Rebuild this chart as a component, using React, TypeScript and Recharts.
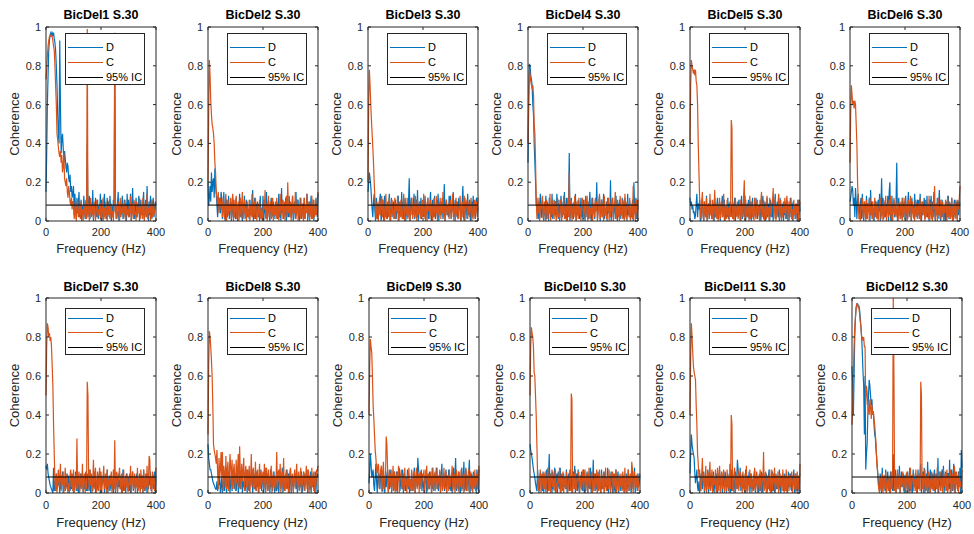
import React from 'react';
import { LineChart, Line, XAxis, YAxis, ReferenceLine, ReferenceArea, Legend, Label } from 'recharts';

const FONT = '"Liberation Sans", Arial, Helvetica, sans-serif';
const D_COLOR = '#0072BD';
const C_COLOR = '#D95319';
const IC_COLOR = '#000000';
const AXIS_COLOR = '#262626';

// coherence bins every 2.5 Hz, 0..400 Hz
const FREQ_STEP = 2.5;
const X_TICKS = [0, 200, 400];
const Y_TICKS = [0, 0.2, 0.4, 0.6, 0.8, 1];
const IC_LEVEL = 0.082;

const TITLES = [
  'BicDel1 S.30', 'BicDel2 S.30', 'BicDel3 S.30', 'BicDel4 S.30', 'BicDel5 S.30', 'BicDel6 S.30',
  'BicDel7 S.30', 'BicDel8 S.30', 'BicDel9 S.30', 'BicDel10 S.30', 'BicDel11 S.30', 'BicDel12 S.30',
];

const LEGEND_ITEMS = [
  { label: 'D', color: D_COLOR },
  { label: 'C', color: C_COLOR },
  { label: '95% IC', color: IC_COLOR },
];

// coherence in hundredths, one row per 50 Hz
const D1 = [
  15, 35, 60, 75, 88, 93, 96, 97, 95, 97, 96, 97, 94, 92, 88, 80, 70, 55, 45, 40,
  93, 60, 35, 42, 45, 38, 30, 36, 32, 28, 25, 30, 28, 22, 20, 24, 15, 18, 12, 14,
  18, 3, 14, 6, 1, 12, 4, 9, 15, 2, 5, 11, 0, 8, 3, 13, 6, 1, 10, 4,
  40, 2, 7, 13, 1, 10, 5, 3, 16, 0, 9, 4, 12, 2, 6, 11, 1, 8, 3, 14,
  2, 11, 5, 0, 9, 14, 3, 7, 1, 12, 4, 10, 2, 13, 6, 0, 8, 3, 11, 5,
  97, 12, 1, 6, 9, 15, 0, 4, 10, 3, 7, 13, 1, 5, 11, 2, 9, 0, 14, 4,
  11, 2, 8, 14, 0, 6, 17, 3, 10, 1, 5, 12, 2, 9, 4, 13, 0, 7, 11, 3,
  6, 9, 15, 1, 4, 11, 2, 18, 5, 0, 10, 3, 13, 7, 1, 9, 12, 2, 6, 10,
  8,
];
const C1 = [
  73, 78, 85, 90, 93, 95, 95, 96, 96, 95, 93, 90, 88, 80, 70, 60, 45, 42, 38, 35,
  33, 36, 30, 34, 25, 28, 35, 22, 20, 18, 22, 15, 12, 18, 15, 10, 8, 12, 6, 10,
  10, 1, 5, 9, 0, 7, 11, 2, 4, 8, 1, 10, 3, 6, 0, 9, 5, 2, 11, 1,
  99, 3, 9, 0, 6, 12, 2, 4, 8, 1, 10, 5, 0, 7, 11, 2, 6, 3, 9, 1,
  9, 0, 5, 12, 2, 7, 1, 10, 4, 0, 8, 3, 11, 1, 6, 9, 2, 5, 0, 10,
  75, 4, 8, 1, 3, 10, 6, 0, 12, 2, 7, 4, 9, 1, 5, 11, 0, 8, 3, 6,
  2, 8, 4, 13, 0, 6, 9, 1, 11, 3, 5, 0, 10, 2, 7, 4, 12, 1, 6, 8,
  1, 12, 3, 0, 9, 5, 2, 14, 1, 7, 4, 10, 0, 6, 11, 2, 8, 3, 5, 9,
  9,
];
const D2 = [
  20, 8, 12, 18, 10, 25, 15, 20, 22, 12, 27, 18, 14, 8, 2, 10, 6, 12, 4, 15,
  12, 1, 6, 15, 3, 0, 8, 11, 2, 5, 13, 1, 7, 10, 0, 4, 12, 2, 9, 3,
  1, 12, 4, 0, 8, 6, 14, 2, 10, 3, 0, 9, 5, 13, 1, 7, 11, 2, 6, 4,
  1, 11, 3, 8, 2, 16, 0, 5, 12, 1, 9, 4, 10, 2, 7, 0, 13, 3, 6, 1,
  13, 0, 5, 9, 2, 15, 1, 6, 11, 3, 0, 8, 12, 2, 4, 10, 1, 7, 3, 9,
  10, 1, 6, 14, 2, 9, 0, 17, 4, 11, 1, 7, 3, 12, 0, 5, 9, 2, 13, 6,
  2, 9, 4, 13, 0, 7, 10, 1, 15, 3, 6, 11, 2, 0, 8, 12, 1, 5, 9, 3,
  12, 1, 6, 9, 14, 0, 4, 10, 2, 7, 13, 1, 5, 11, 0, 8, 3, 12, 6, 2,
  14,
];
const C2 = [
  20, 55, 83, 75, 62, 55, 50, 48, 45, 40, 30, 25, 15, 12, 8, 15, 4, 9, 12, 6,
  10, 2, 12, 7, 1, 9, 14, 0, 6, 11, 3, 8, 5, 12, 1, 9, 14, 0, 11, 2,
  8, 13, 1, 6, 10, 0, 4, 12, 2, 9, 15, 1, 5, 11, 3, 7, 0, 10, 4, 2,
  11, 0, 8, 3, 14, 2, 6, 10, 1, 12, 7, 0, 5, 9, 2, 11, 4, 1, 7, 0,
  3, 11, 6, 16, 1, 9, 0, 5, 13, 2, 7, 10, 1, 4, 12, 0, 8, 3, 10, 1,
  12, 2, 9, 0, 6, 14, 3, 8, 11, 1, 5, 10, 0, 7, 13, 2, 20, 4, 9, 2,
  10, 0, 7, 13, 2, 9, 4, 15, 1, 6, 11, 0, 8, 3, 12, 1, 5, 9, 2, 0,
  12, 1, 8, 4, 14, 2, 6, 10, 0, 9, 3, 13, 1, 7, 11, 2, 5, 8, 3, 11,
  15,
];
const D3 = [
  15, 20, 25, 22, 18, 12, 6, 2, 10, 14, 5, 0, 12, 8, 1, 9, 3, 11, 14, 0,
  3, 11, 6, 0, 13, 2, 9, 4, 1, 10, 7, 14, 0, 5, 12, 2, 8, 10, 1, 6,
  11, 1, 8, 4, 13, 0, 6, 9, 2, 15, 3, 10, 1, 7, 12, 0, 5, 9, 2, 11,
  22, 0, 8, 12, 3, 6, 9, 14, 1, 5, 11, 2, 16, 0, 7, 10, 3, 12, 1, 6,
  10, 2, 7, 13, 0, 8, 4, 12, 1, 6, 9, 15, 0, 4, 11, 2, 8, 13, 1, 5,
  11, 2, 14, 0, 7, 10, 3, 5, 12, 1, 9, 19, 0, 6, 11, 3, 8, 2, 13, 4,
  13, 1, 8, 5, 15, 0, 7, 11, 2, 10, 4, 1, 12, 6, 9, 0, 3, 10, 18, 2,
  0, 12, 5, 9, 1, 14, 3, 7, 11, 0, 6, 10, 2, 13, 4, 8, 1, 10, 12, 3,
  7,
];
const C3 = [
  20, 60, 78, 70, 60, 52, 45, 38, 30, 20, 12, 4, 1, 10, 6, 0, 9, 12, 3, 8,
  13, 2, 11, 5, 0, 8, 14, 1, 7, 10, 2, 12, 4, 0, 9, 11, 3, 6, 1, 12,
  1, 9, 5, 13, 0, 7, 10, 2, 11, 4, 1, 8, 14, 0, 6, 9, 3, 12, 1, 5,
  8, 0, 6, 10, 12, 1, 4, 9, 2, 13, 7, 0, 11, 3, 5, 10, 1, 8, 2, 11,
  2, 14, 4, 1, 10, 7, 0, 12, 5, 8, 1, 11, 3, 9, 0, 6, 12, 2, 7, 4,
  13, 0, 9, 3, 6, 12, 1, 10, 4, 15, 2, 8, 0, 7, 11, 3, 5, 9, 1, 8,
  11, 1, 7, 14, 2, 5, 9, 0, 12, 3, 10, 6, 1, 8, 13, 0, 4, 10, 2, 7,
  13, 0, 6, 8, 11, 1, 5, 10, 2, 7, 12, 0, 4, 9, 1, 11, 3, 6, 10, 2,
  12,
];
const D4 = [
  30, 60, 81, 80, 75, 73, 70, 60, 55, 40, 30, 20, 8, 12, 4, 1, 10, 6, 14, 2,
  2, 11, 5, 0, 9, 3, 13, 1, 10, 7, 0, 12, 4, 8, 2, 14, 1, 6, 11, 3,
  9, 2, 14, 5, 1, 11, 0, 7, 13, 3, 2, 10, 6, 15, 1, 4, 12, 0, 8, 10,
  35, 0, 6, 12, 2, 9, 1, 10, 4, 14, 0, 7, 3, 11, 9, 1, 5, 12, 2, 8,
  1, 11, 4, 0, 13, 6, 2, 10, 1, 8, 15, 3, 0, 9, 12, 4, 7, 1, 11, 5,
  20, 1, 7, 9, 13, 0, 5, 11, 2, 8, 14, 1, 6, 3, 10, 0, 12, 4, 9, 2,
  21, 0, 8, 12, 2, 6, 10, 1, 13, 4, 0, 9, 5, 11, 1, 7, 3, 12, 8, 2,
  1, 12, 5, 9, 0, 14, 3, 7, 10, 1, 6, 2, 11, 0, 20, 8, 3, 12, 1, 11,
  6,
];
const C4 = [
  40, 65, 78, 75, 72, 70, 68, 70, 65, 50, 45, 30, 10, 1, 8, 4, 12, 0, 9, 6,
  9, 13, 1, 5, 10, 2, 0, 11, 7, 1, 9, 4, 14, 0, 6, 11, 3, 8, 1, 10,
  10, 0, 6, 12, 2, 4, 1, 9, 11, 0, 8, 3, 13, 1, 5, 9, 0, 7, 12, 2,
  25, 1, 8, 11, 0, 5, 9, 2, 13, 4, 0, 10, 6, 1, 12, 3, 7, 0, 9, 12,
  8, 1, 5, 11, 2, 9, 13, 0, 4, 10, 1, 7, 3, 12, 0, 6, 9, 2, 12, 5,
  10, 0, 4, 8, 14, 1, 6, 11, 2, 9, 0, 13, 3, 7, 1, 10, 5, 12, 0, 8,
  2, 10, 5, 12, 0, 7, 9, 15, 1, 4, 11, 2, 8, 0, 13, 3, 6, 1, 11, 9,
  0, 14, 3, 1, 10, 6, 8, 2, 12, 0, 5, 9, 1, 18, 4, 9, 0, 7, 11, 1,
  11,
];
const D5 = [
  12, 8, 10, 6, 8, 4, 5, 1, 3, 9, 14, 2, 9, 6, 11, 0, 1, 8, 12, 3,
  0, 10, 4, 2, 13, 0, 7, 9, 1, 8, 11, 3, 1, 6, 9, 0, 12, 2, 5, 8,
  12, 1, 6, 10, 0, 4, 8, 13, 2, 9, 11, 0, 5, 7, 2, 12, 1, 9, 4, 10,
  7, 2, 10, 1, 5, 12, 0, 8, 3, 9, 2, 11, 6, 0, 8, 13, 1, 5, 10, 2,
  13, 0, 6, 9, 2, 11, 1, 4, 10, 0, 7, 12, 1, 5, 9, 2, 12, 6, 1, 8,
  8, 2, 11, 0, 5, 9, 13, 1, 6, 10, 0, 4, 12, 2, 9, 7, 0, 11, 3, 2,
  11, 0, 5, 9, 14, 1, 6, 10, 2, 8, 0, 12, 4, 1, 9, 7, 0, 10, 3, 9,
  1, 11, 4, 8, 0, 6, 12, 2, 9, 0, 10, 3, 7, 1, 9, 5, 0, 11, 3, 11,
  5,
];
const C5 = [
  40, 70, 83, 80, 78, 76, 78, 75, 78, 72, 70, 60, 40, 25, 12, 6, 1, 9, 15, 3,
  0, 10, 4, 2, 12, 0, 7, 9, 1, 14, 3, 8, 1, 11, 0, 6, 16, 2, 9, 1,
  9, 0, 5, 12, 1, 8, 10, 2, 4, 14, 0, 6, 8, 1, 11, 3, 7, 0, 10, 2,
  52, 48, 1, 9, 0, 6, 12, 2, 4, 10, 1, 8, 3, 11, 0, 6, 9, 2, 13, 21,
  0, 11, 3, 2, 9, 6, 0, 13, 1, 5, 10, 2, 7, 0, 12, 4, 1, 8, 11, 3,
  8, 0, 5, 10, 15, 2, 6, 11, 0, 4, 9, 1, 13, 3, 7, 0, 12, 5, 2, 9,
  10, 17, 1, 6, 12, 0, 8, 3, 9, 14, 1, 5, 11, 0, 7, 2, 10, 4, 12, 1,
  9, 13, 0, 5, 10, 2, 7, 12, 1, 6, 0, 11, 3, 8, 1, 9, 4, 11, 0, 7,
  10,
];
const D6 = [
  10, 12, 15, 18, 16, 8, 12, 2, 17, 10, 1, 11, 14, 6, 3, 9, 12, 1, 14, 4,
  0, 10, 8, 3, 13, 1, 9, 6, 12, 0, 16, 4, 10, 2, 7, 0, 11, 3, 10, 5,
  2, 11, 5, 14, 0, 8, 22, 3, 12, 1, 6, 10, 2, 9, 4, 13, 0, 15, 20, 1,
  0, 13, 4, 8, 11, 2, 6, 10, 30, 0, 7, 12, 3, 9, 1, 5, 12, 2, 9, 10,
  1, 13, 5, 0, 9, 15, 2, 7, 10, 0, 12, 4, 8, 1, 14, 6, 2, 9, 11, 3,
  11, 1, 14, 6, 0, 10, 3, 8, 12, 1, 9, 4, 13, 2, 6, 0, 11, 5, 13, 1,
  10, 2, 15, 6, 0, 9, 3, 12, 1, 9, 16, 4, 0, 7, 11, 2, 5, 8, 0, 10,
  0, 10, 4, 13, 1, 7, 9, 2, 12, 5, 0, 8, 11, 2, 6, 10, 1, 11, 3, 10,
  8,
];
const C6 = [
  30, 55, 70, 65, 60, 62, 58, 62, 60, 50, 40, 20, 10, 1, 4, 0, 9, 6, 12, 2,
  2, 10, 5, 0, 11, 1, 7, 9, 0, 12, 3, 8, 1, 10, 0, 6, 12, 2, 9, 1,
  10, 0, 5, 9, 12, 1, 4, 8, 0, 11, 2, 7, 13, 0, 6, 9, 2, 11, 3, 13,
  1, 9, 0, 5, 12, 3, 8, 2, 6, 11, 0, 9, 4, 1, 10, 7, 0, 12, 2, 6,
  12, 0, 6, 9, 1, 11, 4, 8, 13, 0, 5, 10, 2, 7, 0, 11, 3, 9, 1, 5,
  9, 1, 12, 0, 7, 10, 3, 5, 8, 0, 11, 2, 6, 9, 1, 13, 0, 4, 10, 2,
  0, 10, 6, 18, 1, 5, 9, 0, 12, 3, 7, 1, 11, 2, 6, 10, 0, 8, 4, 11,
  8, 0, 13, 2, 6, 10, 1, 5, 12, 0, 7, 3, 9, 1, 11, 4, 0, 9, 6, 12,
  18,
];
const D7 = [
  14, 12, 15, 10, 8, 6, 4, 3, 2, 1, 0, 13, 1, 6, 5, 10, 2, 8, 4, 9,
  0, 9, 2, 6, 11, 0, 4, 8, 1, 10, 3, 7, 0, 9, 5, 1, 10, 2, 6, 9,
  0, 8, 4, 11, 1, 6, 10, 0, 7, 3, 10, 2, 5, 9, 0, 8, 2, 6, 11, 1,
  10, 1, 7, 3, 12, 0, 5, 9, 1, 8, 3, 11, 0, 6, 2, 10, 1, 8, 11, 0,
  1, 9, 4, 7, 10, 0, 5, 8, 2, 12, 0, 6, 9, 1, 4, 10, 2, 7, 0, 9,
  11, 0, 6, 8, 1, 10, 3, 7, 2, 9, 0, 5, 12, 1, 4, 8, 0, 10, 3, 6,
  8, 1, 10, 0, 5, 7, 11, 1, 4, 9, 2, 6, 10, 0, 7, 3, 10, 1, 5, 9,
  7, 0, 12, 3, 1, 9, 5, 0, 10, 2, 8, 4, 11, 1, 6, 9, 2, 8, 11, 0,
  9,
];
const C7 = [
  50, 75, 87, 85, 80, 82, 78, 80, 75, 65, 55, 35, 20, 5, 1, 10, 0, 8, 12, 3,
  7, 15, 1, 9, 4, 11, 0, 6, 13, 2, 8, 10, 1, 5, 0, 9, 12, 3, 10, 1,
  12, 0, 6, 9, 2, 28, 1, 7, 11, 0, 5, 10, 3, 15, 1, 8, 10, 0, 6, 2,
  57, 50, 8, 1, 12, 4, 10, 0, 6, 17, 2, 9, 13, 0, 5, 11, 1, 7, 13, 1,
  11, 0, 5, 8, 14, 2, 6, 10, 0, 12, 3, 7, 1, 9, 4, 11, 0, 6, 12, 2,
  27, 1, 8, 11, 0, 6, 9, 13, 2, 5, 10, 0, 7, 12, 1, 4, 9, 3, 10, 1,
  1, 9, 4, 14, 0, 7, 11, 2, 6, 10, 0, 8, 3, 13, 1, 5, 9, 0, 12, 2,
  9, 0, 12, 5, 1, 10, 3, 14, 0, 6, 19, 17, 2, 8, 0, 11, 4, 9, 1, 6,
  13,
];
const D8 = [
  25, 18, 15, 12, 12, 10, 8, 6, 5, 4, 3, 2, 2, 6, 1, 4, 5, 8, 0, 3,
  8, 0, 5, 9, 1, 7, 11, 0, 4, 8, 2, 10, 0, 6, 9, 1, 7, 11, 2, 5,
  10, 1, 7, 12, 0, 4, 9, 2, 8, 11, 0, 6, 3, 10, 1, 5, 9, 0, 12, 2,
  1, 9, 4, 7, 12, 0, 6, 10, 2, 8, 1, 11, 3, 6, 0, 9, 4, 12, 1, 7,
  9, 0, 5, 13, 2, 7, 10, 1, 4, 8, 0, 12, 3, 9, 1, 6, 11, 0, 7, 3,
  1, 11, 4, 0, 8, 10, 2, 6, 13, 0, 5, 9, 1, 7, 12, 2, 4, 10, 0, 8,
  12, 0, 6, 9, 1, 4, 10, 8, 2, 11, 0, 5, 9, 1, 7, 3, 11, 0, 6, 9,
  1, 10, 4, 8, 12, 0, 6, 9, 2, 11, 0, 7, 3, 10, 1, 5, 11, 0, 8, 10,
  8,
];
const C8 = [
  30, 65, 83, 80, 75, 68, 60, 45, 25, 22, 20, 18, 15, 22, 10, 2, 18, 8, 12, 21,
  8, 21, 1, 14, 10, 3, 19, 2, 12, 16, 1, 9, 20, 13, 4, 17, 2, 11, 15, 6,
  1, 17, 5, 12, 20, 3, 24, 10, 2, 15, 6, 11, 18, 1, 9, 14, 3, 12, 1, 9,
  14, 0, 8, 20, 3, 10, 13, 2, 5, 16, 1, 9, 12, 0, 8, 15, 2, 11, 4, 8,
  11, 2, 15, 6, 0, 13, 9, 1, 12, 4, 2, 10, 14, 0, 7, 11, 3, 9, 1, 7,
  21, 2, 9, 12, 5, 15, 0, 8, 11, 3, 18, 1, 6, 10, 2, 12, 7, 0, 9, 10,
  13, 1, 8, 10, 0, 6, 12, 3, 9, 15, 2, 5, 11, 1, 7, 13, 0, 9, 4, 11,
  10, 1, 7, 14, 2, 8, 12, 0, 5, 9, 1, 13, 3, 7, 11, 0, 9, 4, 12, 11,
  14,
];
const D9 = [
  5, 12, 20, 15, 8, 10, 12, 4, 1, 8, 15, 6, 0, 9, 10, 3, 2, 11, 12, 1,
  1, 9, 5, 0, 11, 3, 8, 12, 1, 6, 2, 10, 12, 0, 7, 9, 1, 11, 4, 1,
  11, 0, 7, 8, 13, 1, 5, 10, 2, 12, 0, 6, 9, 1, 8, 4, 12, 2, 9, 0,
  7, 1, 11, 5, 1, 9, 13, 0, 6, 10, 3, 18, 12, 10, 2, 6, 12, 1, 8, 4,
  1, 9, 5, 12, 0, 7, 10, 2, 11, 4, 8, 0, 13, 2, 6, 10, 1, 8, 13, 2,
  9, 1, 6, 11, 0, 8, 15, 2, 7, 10, 1, 4, 12, 0, 9, 5, 12, 2, 8, 1,
  10, 0, 6, 13, 2, 9, 18, 1, 5, 9, 1, 11, 3, 0, 8, 13, 2, 7, 16, 1,
  2, 12, 5, 9, 1, 10, 17, 0, 6, 10, 1, 8, 11, 2, 5, 9, 0, 12, 8, 1,
  12,
];
const C9 = [
  40, 65, 79, 75, 72, 60, 45, 38, 30, 22, 18, 12, 10, 15, 14, 2, 8, 12, 14, 1,
  11, 16, 2, 9, 7, 29, 25, 13, 0, 8, 12, 3, 10, 1, 6, 14, 2, 11, 0, 9,
  1, 11, 6, 14, 0, 8, 9, 12, 2, 5, 10, 1, 13, 4, 7, 0, 10, 3, 13, 2,
  7, 1, 12, 4, 1, 9, 11, 0, 6, 13, 2, 5, 10, 0, 8, 11, 2, 6, 10, 8,
  12, 0, 6, 9, 14, 1, 4, 10, 2, 7, 11, 0, 5, 13, 1, 8, 11, 2, 6, 13,
  2, 9, 5, 12, 0, 7, 10, 1, 4, 13, 2, 8, 11, 0, 6, 9, 1, 12, 3, 8,
  9, 14, 1, 6, 10, 0, 5, 12, 2, 7, 11, 0, 8, 3, 12, 1, 6, 10, 0, 9,
  10, 13, 1, 6, 9, 12, 0, 5, 11, 2, 8, 0, 10, 3, 12, 1, 7, 10, 2, 9,
  14,
];
const D10 = [
  25, 22, 20, 18, 15, 12, 10, 8, 5, 3, 1, 12, 6, 0, 4, 9, 10, 2, 1, 11,
  0, 9, 4, 2, 12, 0, 6, 10, 20, 1, 10, 5, 0, 11, 2, 8, 13, 0, 7, 10,
  0, 11, 4, 2, 13, 0, 6, 9, 1, 10, 3, 8, 2, 12, 0, 7, 10, 1, 5, 12,
  8, 0, 5, 11, 2, 14, 0, 6, 10, 1, 12, 3, 0, 9, 4, 11, 1, 7, 12, 0,
  9, 1, 6, 11, 0, 10, 3, 2, 13, 0, 8, 5, 17, 1, 6, 10, 2, 9, 0, 11,
  1, 9, 4, 0, 12, 2, 7, 10, 0, 11, 3, 8, 1, 13, 0, 6, 9, 2, 11, 4,
  0, 10, 5, 2, 0, 12, 1, 8, 11, 0, 6, 9, 1, 4, 10, 2, 9, 0, 7, 2,
  10, 0, 6, 12, 1, 8, 9, 0, 4, 11, 2, 7, 13, 0, 5, 9, 1, 10, 3, 6,
  9,
];
const C10 = [
  50, 75, 85, 82, 80, 75, 62, 60, 50, 40, 25, 10, 1, 4, 8, 12, 0, 6, 10, 2,
  10, 2, 11, 0, 6, 9, 13, 1, 4, 10, 0, 8, 12, 3, 7, 1, 9, 12, 0, 5,
  2, 9, 5, 13, 0, 7, 10, 1, 11, 0, 6, 8, 2, 11, 4, 0, 5, 9, 12, 1,
  51, 48, 0, 6, 10, 2, 12, 1, 5, 8, 6, 11, 0, 4, 9, 2, 7, 12, 1, 9,
  12, 1, 6, 10, 0, 8, 13, 2, 5, 9, 11, 0, 7, 3, 10, 1, 6, 12, 0, 10,
  1, 12, 4, 0, 10, 6, 2, 11, 0, 7, 13, 1, 5, 9, 2, 12, 4, 0, 10, 9,
  11, 0, 6, 10, 2, 12, 0, 5, 9, 1, 5, 10, 3, 8, 1, 11, 6, 0, 13, 2,
  0, 9, 4, 12, 1, 7, 10, 2, 16, 12, 0, 6, 11, 2, 9, 3, 10, 1, 5, 9,
  10,
];
const D11 = [
  10, 20, 30, 25, 22, 20, 18, 10, 5, 8, 12, 3, 1, 6, 0, 4, 10, 8, 2, 9,
  11, 0, 5, 9, 1, 7, 12, 0, 4, 10, 2, 6, 8, 1, 11, 0, 6, 9, 2, 10,
  0, 9, 4, 12, 1, 7, 10, 0, 5, 9, 2, 11, 8, 0, 6, 10, 1, 5, 8, 0,
  12, 1, 7, 9, 0, 5, 11, 2, 8, 17, 12, 8, 4, 13, 1, 6, 10, 2, 9, 3,
  0, 12, 5, 1, 9, 6, 11, 0, 4, 10, 2, 7, 1, 9, 12, 0, 6, 10, 3, 8,
  0, 10, 5, 1, 11, 3, 0, 8, 9, 2, 6, 10, 0, 4, 8, 12, 1, 7, 5, 0,
  11, 1, 6, 0, 4, 10, 2, 8, 6, 1, 12, 3, 0, 9, 5, 10, 1, 7, 10, 2,
  1, 8, 0, 11, 3, 8, 10, 2, 1, 9, 6, 12, 0, 4, 10, 1, 8, 0, 5, 8,
  10,
];
const C11 = [
  40, 70, 87, 80, 72, 65, 62, 60, 58, 45, 35, 20, 15, 8, 12, 2, 1, 9, 18, 5,
  10, 1, 6, 14, 0, 7, 11, 2, 9, 16, 1, 8, 12, 0, 9, 4, 5, 12, 0, 2,
  13, 1, 8, 14, 0, 6, 11, 2, 9, 12, 0, 5, 8, 1, 12, 3, 9, 0, 15, 2,
  40, 35, 1, 7, 10, 13, 0, 5, 9, 2, 12, 1, 6, 11, 3, 8, 0, 11, 4, 1,
  10, 2, 14, 0, 6, 8, 1, 12, 3, 10, 0, 5, 9, 2, 13, 1, 7, 11, 0, 6,
  9, 1, 12, 4, 0, 10, 6, 21, 1, 8, 11, 0, 4, 9, 2, 8, 12, 0, 6, 12,
  1, 10, 5, 13, 0, 7, 9, 2, 11, 0, 6, 10, 3, 8, 1, 12, 4, 0, 9, 1,
  12, 0, 6, 9, 1, 10, 3, 8, 11, 0, 5, 9, 2, 10, 0, 6, 11, 2, 9, 1,
  15,
];
const D12 = [
  65, 55, 40, 60, 80, 90, 95, 97, 97, 96, 96, 94, 90, 85, 80, 72, 62, 55, 30, 60,
  12, 20, 25, 40, 50, 58, 55, 50, 45, 48, 40, 42, 35, 30, 28, 22, 18, 12, 8, 4,
  1, 10, 4, 0, 13, 2, 7, 9, 1, 12, 0, 6, 11, 2, 8, 0, 11, 3, 9, 1,
  20, 1, 8, 12, 0, 5, 10, 2, 8, 14, 0, 6, 11, 3, 7, 10, 0, 9, 4, 10,
  2, 11, 5, 0, 13, 1, 8, 9, 0, 12, 3, 6, 10, 1, 9, 0, 12, 4, 7, 10,
  15, 0, 7, 11, 2, 13, 0, 6, 10, 1, 16, 4, 0, 9, 12, 2, 7, 10, 1, 9,
  12, 0, 6, 10, 2, 18, 0, 5, 11, 1, 9, 12, 3, 14, 0, 7, 11, 1, 6, 10,
  10, 2, 17, 0, 6, 12, 1, 8, 15, 3, 0, 11, 5, 9, 1, 11, 4, 13, 0, 22,
  13,
];
const C12 = [
  35, 45, 60, 75, 85, 90, 95, 97, 97, 95, 95, 92, 88, 85, 80, 80, 78, 80, 75, 75,
  45, 55, 52, 45, 42, 40, 48, 44, 38, 45, 40, 42, 38, 35, 30, 25, 15, 12, 5, 2,
  0, 8, 3, 1, 10, 0, 5, 9, 2, 11, 0, 4, 7, 1, 9, 3, 0, 11, 2, 7,
  100, 60, 1, 9, 0, 5, 12, 2, 7, 10, 0, 8, 3, 6, 11, 1, 5, 8, 0, 9,
  11, 0, 6, 9, 2, 13, 0, 5, 8, 10, 1, 7, 3, 12, 0, 6, 9, 2, 10, 1,
  57, 50, 2, 10, 0, 6, 12, 1, 4, 9, 0, 11, 3, 7, 0, 8, 11, 2, 6, 8,
  1, 10, 4, 2, 13, 0, 6, 9, 11, 1, 5, 8, 0, 12, 3, 7, 10, 1, 12, 0,
  2, 9, 5, 12, 0, 7, 10, 1, 6, 14, 0, 5, 11, 2, 8, 0, 11, 3, 6, 2,
  12,
];

const SERIES_D = [D1, D2, D3, D4, D5, D6, D7, D8, D9, D10, D11, D12];
const SERIES_C = [C1, C2, C3, C4, C5, C6, C7, C8, C9, C10, C11, C12];

// layout
const AXIS_W = 46;
const PLOT_W = 110;
const RIGHT_PAD = 14;
const MT = 24;
const X_AXIS_H = 40;
const LINE_W = 1.2;
const PLOT_LEFTS = [
  [46, 208, 368, 528, 690, 850],
  [46, 208, 369, 530, 690, 852],
];
const ROWS = [
  { plotTop: 27, plotH: 194, legendTop: 6, legendH: 52, legendFirst: 13, legendGap: 15, titleDy: 12, tickDy: 11, labelDy: 27 },
  { plotTop: 298, plotH: 195, legendTop: 10, legendH: 47, legendFirst: 9, legendGap: 14.6, titleDy: 11, tickDy: 12, labelDy: 29 },
];

type Row = (typeof ROWS)[number];

function renderLegend(row: Row) {
  return () => (
    <div
      style={{
        position: 'relative',
        width: 80,
        height: row.legendH,
        boxSizing: 'border-box',
        border: `1px solid ${AXIS_COLOR}`,
        background: '#fff',
        fontFamily: FONT,
        fontSize: 11,
        color: '#000',
      }}
    >
      {LEGEND_ITEMS.map((item, i) => (
        <div
          key={item.label}
          style={{
            position: 'absolute',
            left: 2,
            top: row.legendFirst + i * row.legendGap - 8,
            height: 16,
            display: 'flex',
            alignItems: 'center',
            whiteSpace: 'nowrap',
          }}
        >
          <span style={{ display: 'inline-block', width: 35, height: 0, borderTop: `1px solid ${item.color}` }} />
          <span style={{ marginLeft: 3 }}>{item.label}</span>
        </div>
      ))}
    </div>
  );
}

function Panel({ index, row, plotLeft }: { index: number; row: Row; plotLeft: number }) {
  const d = SERIES_D[index];
  const c = SERIES_C[index];
  const data = d.map((v, i) => ({ f: i * FREQ_STEP, D: v / 100, C: (c[i] ?? 0) / 100 }));
  const bottom = MT + row.plotH;
  const right = AXIS_W + PLOT_W;

  const yTick = (props: any) => {
    const { y, payload } = props;
    return (
      <g>
        <line x1={AXIS_W} x2={AXIS_W + 3} y1={y} y2={y} stroke={AXIS_COLOR} />
        <line x1={right - 3} x2={right} y1={y} y2={y} stroke={AXIS_COLOR} />
        <text x={AXIS_W - 5} y={y} textAnchor="end" dominantBaseline="central" fontSize={11} fontFamily={FONT} fill={AXIS_COLOR}>
          {payload.value}
        </text>
      </g>
    );
  };

  const xTick = (props: any) => {
    const { x, payload } = props;
    return (
      <g>
        <line x1={x} x2={x} y1={bottom} y2={bottom - 3} stroke={AXIS_COLOR} />
        <line x1={x} x2={x} y1={MT} y2={MT + 3} stroke={AXIS_COLOR} />
        <text x={x} y={bottom + row.tickDy} textAnchor="middle" dominantBaseline="central" fontSize={11} fontFamily={FONT} fill={AXIS_COLOR}>
          {payload.value}
        </text>
      </g>
    );
  };

  return (
    <div style={{ position: 'absolute', left: plotLeft - AXIS_W, top: row.plotTop - MT }}>
      <div
        style={{
          position: 'absolute',
          left: AXIS_W - 25,
          width: PLOT_W + 50,
          top: MT - row.titleDy - 8,
          height: 16,
          lineHeight: '16px',
          textAlign: 'center',
          fontFamily: FONT,
          fontWeight: 'bold',
          fontSize: 12.5,
          color: '#000',
          zIndex: 2,
        }}
      >
        {TITLES[index]}
      </div>
      <LineChart
        width={AXIS_W + PLOT_W + RIGHT_PAD}
        height={MT + row.plotH + X_AXIS_H}
        data={data}
        margin={{ top: MT, right: RIGHT_PAD, bottom: 0, left: 0 }}
      >
        <XAxis
          dataKey="f"
          type="number"
          domain={[0, 400]}
          ticks={X_TICKS}
          interval={0}
          height={X_AXIS_H}
          axisLine={false}
          tickLine={false}
          tick={xTick}
        >
          <Label
            content={() => (
              <text x={AXIS_W + PLOT_W / 2} y={bottom + row.labelDy} textAnchor="middle" dominantBaseline="central" fontSize={13} fontFamily={FONT} fill={AXIS_COLOR}>
                Frequency (Hz)
              </text>
            )}
          />
        </XAxis>
        <YAxis
          type="number"
          domain={[0, 1]}
          ticks={Y_TICKS}
          interval={0}
          width={AXIS_W}
          axisLine={false}
          tickLine={false}
          tick={yTick}
        >
          <Label
            content={() => (
              <text
                x={AXIS_W - 32}
                y={MT + row.plotH / 2}
                transform={`rotate(-90 ${AXIS_W - 32} ${MT + row.plotH / 2})`}
                textAnchor="middle"
                dominantBaseline="central"
                fontSize={13}
                fontFamily={FONT}
                fill={AXIS_COLOR}
              >
                Coherence
              </text>
            )}
          />
        </YAxis>
        <Line type="linear" dataKey="D" stroke={D_COLOR} strokeWidth={LINE_W} dot={false} activeDot={false} isAnimationActive={false} />
        <Line type="linear" dataKey="C" stroke={C_COLOR} strokeWidth={LINE_W} dot={false} activeDot={false} isAnimationActive={false} />
        <ReferenceLine y={IC_LEVEL} stroke={IC_COLOR} strokeWidth={1} zIndex={1000} />
        <ReferenceArea x1={0} x2={400} y1={0} y2={1} fill="none" stroke={AXIS_COLOR} strokeWidth={1} zIndex={1000} />
        <Legend
          layout="vertical"
          align="center"
          verticalAlign="middle"
          content={renderLegend(row)}
          wrapperStyle={{ left: AXIS_W + 19, top: MT + row.legendTop, width: 80, height: row.legendH }}
        />
      </LineChart>
    </div>
  );
}

export default function App() {
  return (
    <div style={{ position: 'absolute', left: 0, top: 0, width: 974, height: 534, background: '#fff', overflow: 'hidden' }}>
      {TITLES.map((_, i) => {
        const r = Math.floor(i / 6);
        return <Panel key={i} index={i} row={ROWS[r]} plotLeft={PLOT_LEFTS[r][i % 6]} />;
      })}
    </div>
  );
}
